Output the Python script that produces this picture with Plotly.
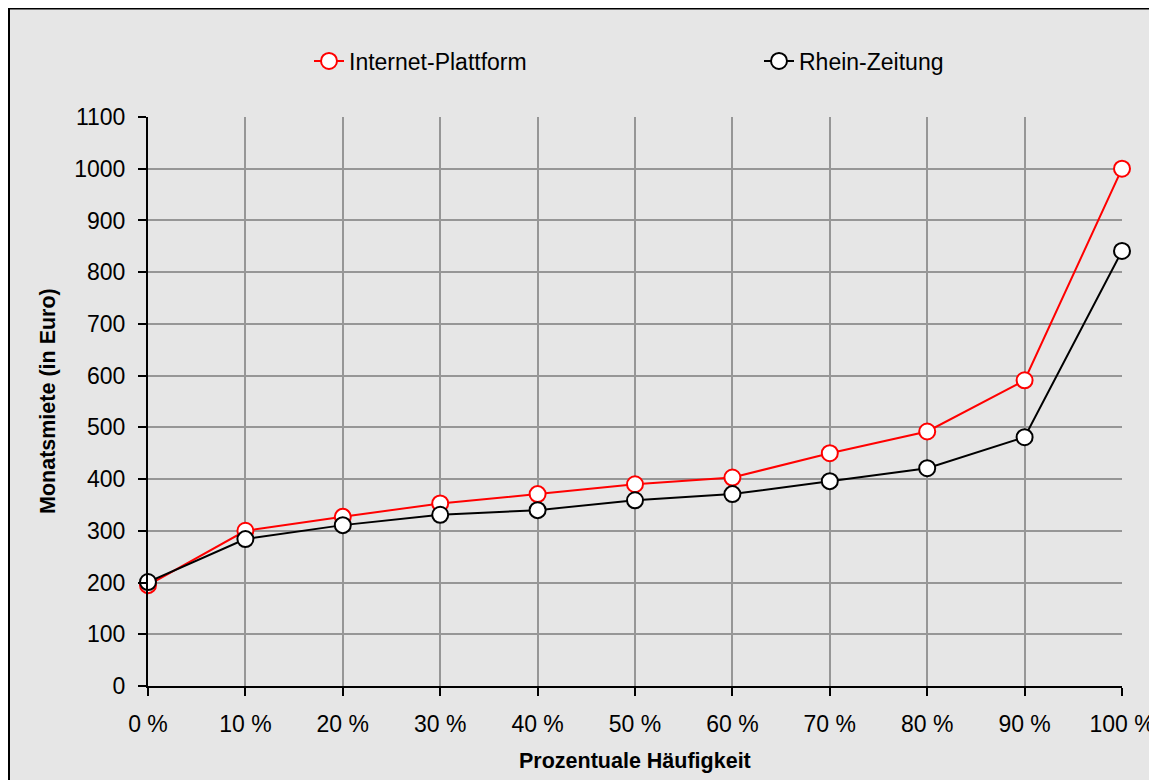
import plotly.graph_objects as go

categories = [0, 10, 20, 30, 40, 50, 60, 70, 80, 90, 100]
tick_labels = ["0 %", "10 %", "20 %", "30 %", "40 %", "50 %", "60 %", "70 %", "80 %", "90 %", "100 %"]
internet = [195, 300, 327, 353, 371, 390, 403, 450, 492, 591, 1000]
rhein = [201, 284, 311, 331, 340, 359, 371, 396, 421, 481, 841]
y_ticks = list(range(0, 1101, 100))

FONT = "Liberation Sans, Arial, sans-serif"

fig = go.Figure()
fig.add_trace(go.Scatter(
    x=categories, y=internet, name="Internet-Plattform", mode="lines+markers",
    line=dict(color="#ff0000", width=2),
    marker=dict(symbol="circle", size=16, color="white", line=dict(color="#ff0000", width=2)),
    cliponaxis=False,
))
fig.add_trace(go.Scatter(
    x=categories, y=rhein, name="Rhein-Zeitung", mode="lines+markers",
    line=dict(color="#000000", width=2),
    marker=dict(symbol="circle", size=16, color="white", line=dict(color="#000000", width=2)),
    cliponaxis=False,
))

# figure coordinates (page body has an 8px margin)
W, H = 1149, 772
L, R, T, B = 140, 1114, 109, 678
pw, ph = R - L, B - T

def px_x(x):
    return (x - L) / pw

def px_y(y):
    return (B - y) / ph

fig.add_shape(type="rect", xref="paper", yref="paper",
              x0=px_x(1), x1=px_x(1400), y0=px_y(1000), y1=px_y(0.5),
              fillcolor="#e6e6e6", line=dict(color="black", width=2), layer="below")

fig.add_annotation(text="<b>Prozentuale Häufigkeit</b>", xref="paper", yref="paper",
                   x=0.5, y=px_y(753), xanchor="center", yanchor="middle",
                   showarrow=False, font=dict(size=21.5, family=FONT, color="black"))
fig.add_annotation(text="<b>Monatsmiete (in Euro)</b>", xref="paper", yref="paper",
                   x=px_x(39.5), y=0.5, xanchor="center", yanchor="middle", textangle=-90,
                   showarrow=False, font=dict(size=21.5, family=FONT, color="black"))

fig.update_layout(
    width=W, height=H,
    margin=dict(l=L, r=W - R, t=T, b=H - B, pad=0, autoexpand=False),
    paper_bgcolor="white",
    plot_bgcolor="white",
    font=dict(family=FONT, size=23, color="black"),
    showlegend=True,
    legend=dict(orientation="h", x=px_x(301), xanchor="left", y=px_y(53), yanchor="middle",
                bgcolor="rgba(0,0,0,0)", font=dict(size=23), entrywidth=405, entrywidthmode="pixels"),
    xaxis=dict(
        range=[0, 100], tickvals=categories, ticktext=tick_labels,
        showgrid=True, gridcolor="#969696", gridwidth=2,
        showline=True, linecolor="black", linewidth=2,
        ticks="outside", ticklen=8, tickcolor="black", tickwidth=1.5,
        zeroline=False, tickfont=dict(size=23), automargin=False, ticklabelstandoff=8,
    ),
    yaxis=dict(
        range=[0, 1100], tickvals=y_ticks,
        showgrid=True, gridcolor="#969696", gridwidth=2,
        showline=True, linecolor="black", linewidth=2,
        ticks="outside", ticklen=8, tickcolor="black", tickwidth=1.5,
        zeroline=False, tickfont=dict(size=23), automargin=False, ticklabelstandoff=8,
    ),
)

fig.write_html("out.html")
